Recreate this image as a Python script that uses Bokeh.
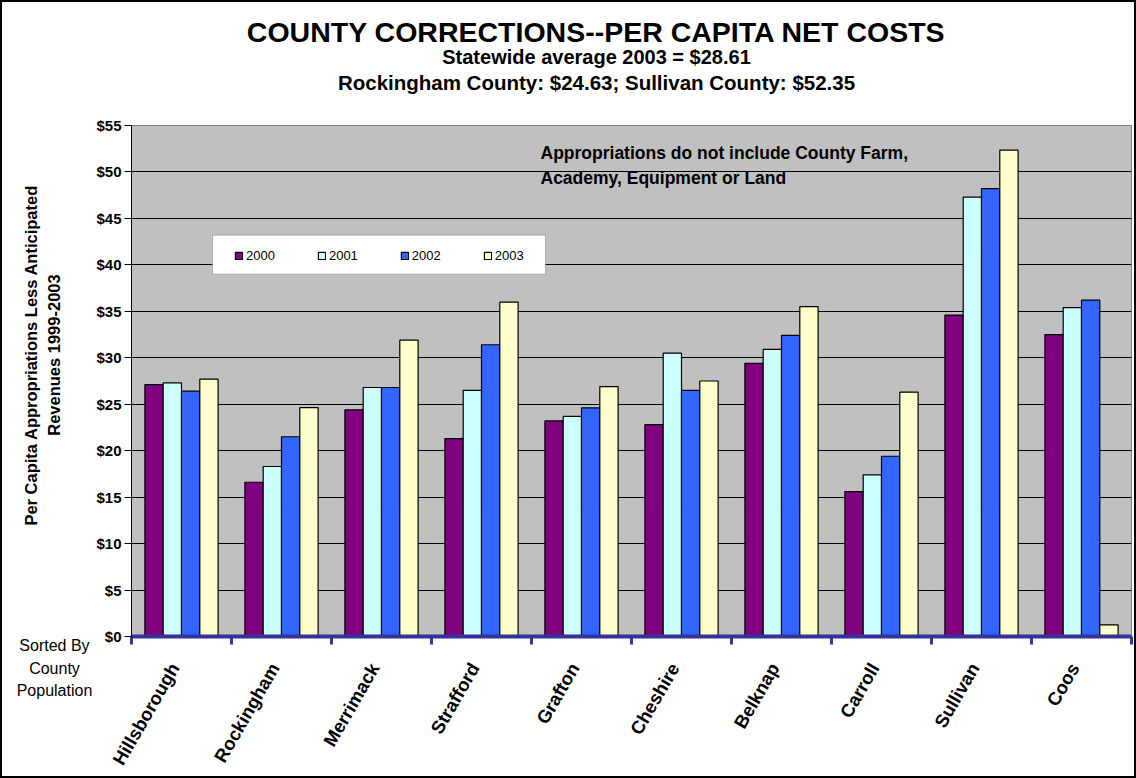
import numpy as np
from bokeh.plotting import figure
from bokeh.layouts import column, row
from bokeh.models import (Range1d, FixedTicker, Label, Legend, LegendItem,
                          BoxAnnotation, NumeralTickFormatter, LinearAxis)
from bokeh.embed import file_html
from bokeh.resources import INLINE

# ---------------- data ----------------
counties = ["Hillsborough", "Rockingham", "Merrimack", "Strafford", "Grafton",
            "Cheshire", "Belknap", "Carroll", "Sullivan", "Coos"]
years = ["2000", "2001", "2002", "2003"]
v2000 = [27.1, 16.6, 24.4, 21.3, 23.2, 22.8, 29.4, 15.6, 34.6, 32.5]
v2001 = [27.3, 18.3, 26.8, 26.5, 23.7, 30.5, 30.9, 17.4, 47.3, 35.4]
v2002 = [26.4, 21.5, 26.8, 31.4, 24.6, 26.5, 32.4, 19.4, 48.2, 36.2]
v2003 = [27.7, 24.63, 31.9, 36.0, 26.9, 27.5, 35.5, 26.3, 52.35, 1.25]
series = [v2000, v2001, v2002, v2003]
colors = ["#800080", "#CCFFFF", "#3366FF", "#FFFFCC"]
y_ticks = list(range(0, 56, 5))

title = "COUNTY CORRECTIONS--PER CAPITA NET COSTS"
subtitle1 = "Statewide average 2003 = $28.61"
subtitle2 = "Rockingham County: $24.63; Sullivan County: $52.35"
note1 = "Appropriations do not include County Farm,"
note2 = "Academy, Equipment or Land"
ylab1 = "Per Capita Appropriations Less Anticipated"
ylab2 = "Revenues 1999-2003"
sorted_lines = ["Sorted By", "County", "Population"]

FONT = "Liberation Sans"

TOTAL_W, TOTAL_H = 1132, 774
TITLE_H = 105
LEFT_W = 90
BODY_H = TOTAL_H - TITLE_H
FRAME_TOP = 18
FRAME_H = 512


def lab(fig, x, y, text, size, bold=True, angle=0.0, align="center"):
    fig.add_layout(Label(x=x, y=y, text=text, text_font=FONT,
                         text_font_size=f"{size}px",
                         text_font_style="bold" if bold else "normal",
                         text_align=align, text_baseline="middle", angle=angle,
                         text_color="black"))


# ---------------- title strip (coords = pixels inside the strip) ----------
tfig = figure(width=TOTAL_W, height=TITLE_H, output_backend="svg",
              toolbar_location=None, x_range=Range1d(0, TOTAL_W),
              y_range=Range1d(TITLE_H, 0), x_axis_type=None, y_axis_type=None,
              min_border=0, outline_line_color=None,
              background_fill_color="white", border_fill_color="white")
tfig.grid.visible = False
lab(tfig, 594, 29, title, 28.5)
lab(tfig, 594, 54, subtitle1, 20)
lab(tfig, 594, 80, subtitle2, 20.5)

# ---------------- left strip: its frame is aligned with the chart frame ----
# x: page pixels 2..92, y: page pixels 637 (bottom) .. 125 (top)
lfig = figure(width=LEFT_W, height=BODY_H, output_backend="svg",
              toolbar_location=None, x_range=Range1d(2, 2 + LEFT_W),
              y_range=Range1d(637, 125), x_axis_type=None, y_axis_type=None,
              min_border=0, min_border_top=FRAME_TOP,
              min_border_bottom=BODY_H - FRAME_TOP - FRAME_H,
              outline_line_color=None,
              background_fill_color="white", border_fill_color="white")
lfig.grid.visible = False
lab(lfig, 30, 355, ylab1, 16.5, angle=np.pi / 2)
lab(lfig, 53, 355, ylab2, 16.5, angle=np.pi / 2)

# "Sorted By / County / Population" as stacked tick labels below the strip
for txt, so in zip(sorted_lines, [0, 3, 2]):
    ax = LinearAxis(ticker=FixedTicker(ticks=[54.0]),
                    major_label_overrides={54.0: txt},
                    axis_line_color=None, major_tick_line_color=None,
                    minor_tick_line_color=None, major_tick_out=0,
                    major_tick_in=0, major_label_standoff=so,
                    major_label_text_font=FONT,
                    major_label_text_font_size="16px",
                    major_label_text_font_style="normal",
                    major_label_text_color="black")
    lfig.add_layout(ax, "below")

# ---------------- main chart ----------------
p = figure(width=TOTAL_W - LEFT_W, height=BODY_H, output_backend="svg",
           toolbar_location=None, title=None,
           x_range=Range1d(0, len(counties)), y_range=Range1d(0, 55),
           min_border_left=131 - 2 - LEFT_W, min_border_right=3,
           min_border_top=FRAME_TOP,
           min_border_bottom=BODY_H - FRAME_TOP - FRAME_H,
           background_fill_color="#C0C0C0", border_fill_color="white",
           outline_line_color="#808080", outline_line_width=1)

centers = np.arange(len(counties)) + 0.5
bw = 0.183
offsets = (np.arange(len(years)) - 1.5) * bw
rends = []
for vals, col, off in zip(series, colors, offsets):
    r = p.vbar(x=centers + off, top=vals, bottom=0, width=bw, fill_color=col,
               line_color="black", line_width=1.2)
    rends.append(r)

p.xgrid.visible = False
p.ygrid.ticker = FixedTicker(ticks=y_ticks)
p.ygrid.grid_line_color = "black"
p.ygrid.grid_line_width = 1

p.yaxis.ticker = FixedTicker(ticks=y_ticks)
p.yaxis.formatter = NumeralTickFormatter(format="$0")
p.yaxis.axis_line_color = "black"
p.yaxis.major_tick_out = 7
p.yaxis.major_tick_in = 0
p.yaxis.minor_tick_line_color = None
p.yaxis.major_label_standoff = 3
p.yaxis.major_label_text_font = FONT
p.yaxis.major_label_text_font_style = "bold"
p.yaxis.major_label_text_font_size = "15px"
p.yaxis.major_label_text_color = "black"

# category names sit slightly left of each group's centre, as in the original
label_pos = [round(c - 0.07, 3) for c in centers]
p.xaxis.ticker = FixedTicker(ticks=label_pos,
                             minor_ticks=list(range(len(counties) + 1)))
p.xaxis.major_label_overrides = {lp: n for lp, n in zip(label_pos, counties)}
p.xaxis.axis_line_color = "#333399"
p.xaxis.axis_line_width = 4
p.xaxis.major_tick_line_color = None
p.xaxis.major_tick_out = 0
p.xaxis.major_tick_in = 0
p.xaxis.minor_tick_line_color = "#333399"
p.xaxis.minor_tick_line_width = 3
p.xaxis.minor_tick_out = 8
p.xaxis.minor_tick_in = 0
p.xaxis.major_label_orientation = np.deg2rad(60)
p.xaxis.major_label_standoff = 20
p.xaxis.major_label_text_font = FONT
p.xaxis.major_label_text_font_style = "bold"
p.xaxis.major_label_text_font_size = "18.5px"
p.xaxis.major_label_text_color = "black"

box = BoxAnnotation(left=0.81, right=4.14, bottom=39.0, top=43.2,
                    fill_color="white", fill_alpha=1, line_color="#404040",
                    line_width=1)
p.add_layout(box)
items = [LegendItem(label=y, renderers=[r]) for y, r in zip(years, rends)]
leg = Legend(items=items, orientation="horizontal", location=(98, 368),
             glyph_width=9, glyph_height=9, label_standoff=3, spacing=42,
             padding=5, margin=0, background_fill_alpha=0, border_line_alpha=0,
             label_text_font=FONT, label_text_font_size="13px",
             label_text_color="black")
p.add_layout(leg, "center")

lab(p, 4.09, 52.0, note1, 17.5, align="left")
lab(p, 4.09, 49.4, note2, 17.5, align="left")

layout = column(tfig, row(lfig, p, spacing=0), spacing=0,
                styles={"border": "2px solid black"})

open("out.html", "w").write(file_html(layout, INLINE))
